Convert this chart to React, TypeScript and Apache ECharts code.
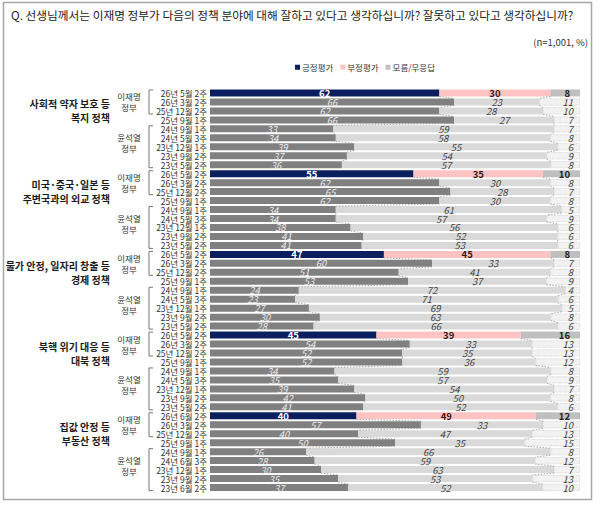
import React, { useEffect, useRef } from 'react';
import * as echarts from 'echarts';

const TITLE = 'Q. 선생님께서는 이재명 정부가 다음의 정책 분야에 대해 잘하고 있다고 생각하십니까? 잘못하고 있다고 생각하십니까?';
const SAMPLE_NOTE = '(n=1,001, %)';
const LEGEND_NAMES = ['긍정평가', '부정평가', '모름/무응답'];
const GROUP_TITLES = [
  '사회적 약자 보호 등\n복지 정책',
  '미국·중국·일본 등\n주변국과의 외교 정책',
  '물가 안정, 일자리 창출 등\n경제 정책',
  '북핵 위기 대응 등\n대북 정책',
  '집값 안정 등\n부동산 정책',
];
const GOV_LABELS = ['이재명\n정부', '윤석열\n정부'];
const DATES_MAIN = ['26년 5월 2주', '26년 3월 2주', '25년 12월 2주', '25년 9월 1주', '24년 9월 1주', '24년 5월 3주', '23년 12월 1주', '23년 9월 2주', '23년 5월 2주'];
const DATES_HOUSING = ['26년 6월 2주', '26년 3월 2주', '25년 12월 2주', '25년 9월 1주', '24년 9월 1주', '24년 6월 3주', '23년 12월 1주', '23년 9월 2주', '23년 6월 2주'];

const welfarePositive = [62, 66, 62, 66, 33, 34, 39, 37, 36];
const welfareNegative = [30, 23, 28, 27, 59, 58, 55, 54, 57];
const welfareUnknown = [8, 11, 10, 7, 7, 8, 6, 9, 8];
const diplomacyPositive = [55, 62, 65, 62, 34, 34, 38, 41, 41];
const diplomacyNegative = [35, 30, 28, 30, 61, 57, 56, 52, 53];
const diplomacyUnknown = [10, 8, 7, 8, 5, 9, 6, 6, 6];
const economyPositive = [47, 60, 51, 53, 24, 23, 27, 30, 28];
const economyNegative = [45, 33, 41, 37, 72, 71, 69, 63, 66];
const economyUnknown = [8, 7, 8, 9, 4, 6, 5, 8, 6];
const northKoreaPositive = [45, 54, 52, 52, 34, 35, 39, 42, 41];
const northKoreaNegative = [39, 33, 35, 36, 59, 57, 54, 50, 52];
const northKoreaUnknown = [16, 13, 13, 12, 8, 9, 7, 8, 6];
const housingPositive = [40, 57, 40, 50, 26, 28, 30, 35, 37];
const housingNegative = [49, 33, 47, 35, 66, 59, 63, 53, 52];
const housingUnknown = [12, 10, 13, 15, 8, 12, 7, 13, 10];

const GROUP_POS = [welfarePositive, diplomacyPositive, economyPositive, northKoreaPositive, housingPositive];
const GROUP_NEG = [welfareNegative, diplomacyNegative, economyNegative, northKoreaNegative, housingNegative];
const GROUP_UNK = [welfareUnknown, diplomacyUnknown, economyUnknown, northKoreaUnknown, housingUnknown];
const GROUP_DATES = [DATES_MAIN, DATES_MAIN, DATES_MAIN, DATES_MAIN, DATES_HOUSING];

const FONT = '"Noto Sans CJK KR", "Noto Sans", sans-serif';
const NAVY = '#0b1f5e';
const PINK = '#ffc3c3';
const SILVER = '#bfbfbf';
const DARK_GRAY = '#808080';
const MID_GRAY = '#d9d9d9';
const LIGHT_GRAY = '#f2f2f2';
const BAR_W = 7;

export default function App() {
  const ref = useRef<HTMLDivElement>(null);
  useEffect(() => {
    if (!ref.current) return;
    const chart = echarts.init(ref.current, null, { renderer: 'svg' });

    const cats: string[] = [];
    const rawPos: number[] = [];
    const rawNeg: number[] = [];
    const rawUnk: number[] = [];
    const hi: boolean[] = [];
    const groupOf: number[] = [];
    GROUP_POS.forEach((arr, g) => {
      arr.forEach((p, i) => {
        cats.push(GROUP_DATES[g][i]);
        rawPos.push(p);
        rawNeg.push(GROUP_NEG[g][i]);
        rawUnk.push(GROUP_UNK[g][i]);
        hi.push(i === 0);
        groupOf.push(g);
      });
    });
    const totals = rawPos.map((p, k) => p + rawNeg[k] + rawUnk[k]);
    const nPos = rawPos.map((p, k) => (p / totals[k]) * 100);
    const nNeg = rawNeg.map((v, k) => (v / totals[k]) * 100);
    const nUnk = rawUnk.map((v, k) => (v / totals[k]) * 100);

    const posData = nPos.map((v, k) => ({
      value: v,
      itemStyle: { color: hi[k] ? NAVY : DARK_GRAY },
      label: hi[k]
        ? { color: '#ffffff', fontWeight: 'bold', fontStyle: 'normal' }
        : { color: '#eeeeee', fontWeight: 'normal', fontStyle: 'italic' },
    }));
    const negData = nNeg.map((v, k) => ({
      value: v,
      itemStyle: { color: hi[k] ? PINK : MID_GRAY },
      label: hi[k]
        ? { color: '#3a1515', fontWeight: 'bold', fontStyle: 'normal' }
        : { color: '#404040', fontWeight: 'normal', fontStyle: 'italic' },
    }));
    const unkData = nUnk.map((v, k) => ({
      value: v,
      itemStyle: hi[k]
        ? { color: SILVER }
        : { color: LIGHT_GRAY, borderColor: '#bcbcbc', borderWidth: 0.6, borderType: 'dotted' },
      label: hi[k]
        ? { color: '#222222', fontWeight: 'bold', fontStyle: 'normal', position: 'insideRight', distance: 10 }
        : { color: '#404040', fontWeight: 'normal', fontStyle: 'italic', position: 'insideRight', distance: 7 },
    }));

    // series lines between consecutive rows within a group
    const lineData: number[][] = [];
    for (let k = 0; k < cats.length - 1; k++) {
      if (groupOf[k] !== groupOf[k + 1]) continue;
      lineData.push([k, nPos[k], nPos[k] + nNeg[k], nPos[k + 1], nPos[k + 1] + nNeg[k + 1]]);
    }

    const baseLabel = { show: true, fontSize: 9.5, lineHeight: 9, fontFamily: FONT, position: 'inside' };

    chart.setOption({
      animation: false,
      textStyle: { fontFamily: FONT },
      legend: {
        data: LEGEND_NAMES,
        left: 290,
        top: 58,
        icon: 'rect',
        itemWidth: 5,
        itemHeight: 5,
        itemGap: 7,
        textStyle: { fontSize: 8.5, color: '#333', fontFamily: FONT, padding: [0, 0, 0, -3] },
        selectedMode: false,
      },
      grid: { left: 210, right: 20, top: 88.5, bottom: 14 },
      xAxis: { type: 'value', min: 0, max: 100, show: false },
      yAxis: {
        type: 'category',
        inverse: true,
        data: cats.map((_, k) => String(k)),
        axisLine: { show: false },
        axisTick: { show: false },
        axisLabel: {
          interval: 0,
          margin: 3,
          fontSize: 8.5,
          lineHeight: 9,
          color: '#333333',
          fontFamily: FONT,
          formatter: (_: string, idx: number) => cats[idx],
        },
      },
      series: [
        {
          name: LEGEND_NAMES[0],
          type: 'bar',
          stack: 'a',
          barWidth: BAR_W,
          itemStyle: { color: NAVY },
          label: { ...baseLabel, formatter: (p: any) => String(rawPos[p.dataIndex]) },
          data: posData,
        },
        {
          name: LEGEND_NAMES[1],
          type: 'bar',
          stack: 'a',
          barWidth: BAR_W,
          itemStyle: { color: PINK },
          label: { ...baseLabel, formatter: (p: any) => String(rawNeg[p.dataIndex]) },
          data: negData,
        },
        {
          name: LEGEND_NAMES[2],
          type: 'bar',
          stack: 'a',
          barWidth: BAR_W,
          itemStyle: { color: SILVER },
          label: { ...baseLabel, formatter: (p: any) => String(rawUnk[p.dataIndex]) },
          data: unkData,
        },
        {
          type: 'custom',
          silent: true,
          z: 5,
          encode: { x: [1, 2, 3, 4], y: 0 },
          data: lineData,
          renderItem: (params: any, api: any) => {
            const k = api.value(0);
            const a1 = api.coord([api.value(1), k]);
            const a2 = api.coord([api.value(2), k]);
            const b1 = api.coord([api.value(3), k + 1]);
            const b2 = api.coord([api.value(4), k + 1]);
            const h = BAR_W / 2;
            const style = { stroke: '#8a8a8a', lineWidth: 0.7, lineDash: [1.5, 1.5] };
            return {
              type: 'group',
              children: [
                { type: 'line', shape: { x1: a1[0], y1: a1[1] + h, x2: b1[0], y2: b1[1] - h }, style },
                { type: 'line', shape: { x1: a2[0], y1: a2[1] + h, x2: b2[0], y2: b2[1] - h }, style },
              ],
            };
          },
        },
      ],
    });

    const yPix = (k: number) => chart.convertToPixel({ yAxisIndex: 0 }, String(k)) as number;
    const graphics: any[] = [
      {
        type: 'rect',
        shape: { x: 3.5, y: 2.5, width: 588, height: 497 },
        style: { fill: 'none', stroke: '#a6a6a6', lineWidth: 1.5 },
        silent: true,
      },
      {
        type: 'text',
        x: 11,
        y: 14,
        style: { text: TITLE, fontSize: 11.7, fontFamily: FONT, fill: '#222', textVerticalAlign: 'middle' },
      },
      {
        type: 'text',
        x: 588,
        y: 42,
        style: { text: SAMPLE_NOTE, fontSize: 9.5, fontFamily: FONT, fill: '#333', textAlign: 'right', textVerticalAlign: 'middle' },
      },
    ];
    GROUP_TITLES.forEach((t, g) => {
      const base = g * 9;
      const y0 = yPix(base);
      const y2 = yPix(base + 2);
      const y4 = yPix(base + 4);
      const y6 = yPix(base + 6);
      const y8 = yPix(base + 8);
      graphics.push({
        type: 'text',
        x: 110,
        y: y2,
        style: {
          text: t,
          fontSize: 10,
          fontWeight: 'bold',
          fontFamily: FONT,
          fill: '#1a1a1a',
          textAlign: 'right',
          textVerticalAlign: 'middle',
          lineHeight: 14,
        },
      });
      graphics.push({
        type: 'text',
        x: 129,
        y: (y0 + y2) / 2,
        style: { text: GOV_LABELS[0], fontSize: 8.5, fontFamily: FONT, fill: '#333', textAlign: 'center', textVerticalAlign: 'middle', lineHeight: 11 },
      });
      graphics.push({
        type: 'text',
        x: 129,
        y: y6 - 4,
        style: { text: GOV_LABELS[1], fontSize: 8.5, fontFamily: FONT, fill: '#333', textAlign: 'center', textVerticalAlign: 'middle', lineHeight: 11 },
      });
      const bracket = (top: number, bottom: number) => ({
        type: 'polyline',
        shape: { points: [[153, top], [149, top], [149, bottom], [153, bottom]] },
        style: { stroke: '#666', lineWidth: 0.9, fill: 'none' },
        silent: true,
      });
      graphics.push(bracket(y0 - 3, y2 + 3));
      graphics.push(bracket(y4 - 3, y8 + 3));
    });
    chart.setOption({ graphic: graphics });

    return () => chart.dispose();
  }, []);

  return (
    <div
      ref={ref}
      style={{ position: 'fixed', left: 0, top: 0, width: 600, height: 506, background: '#ffffff' }}
    />
  );
}
